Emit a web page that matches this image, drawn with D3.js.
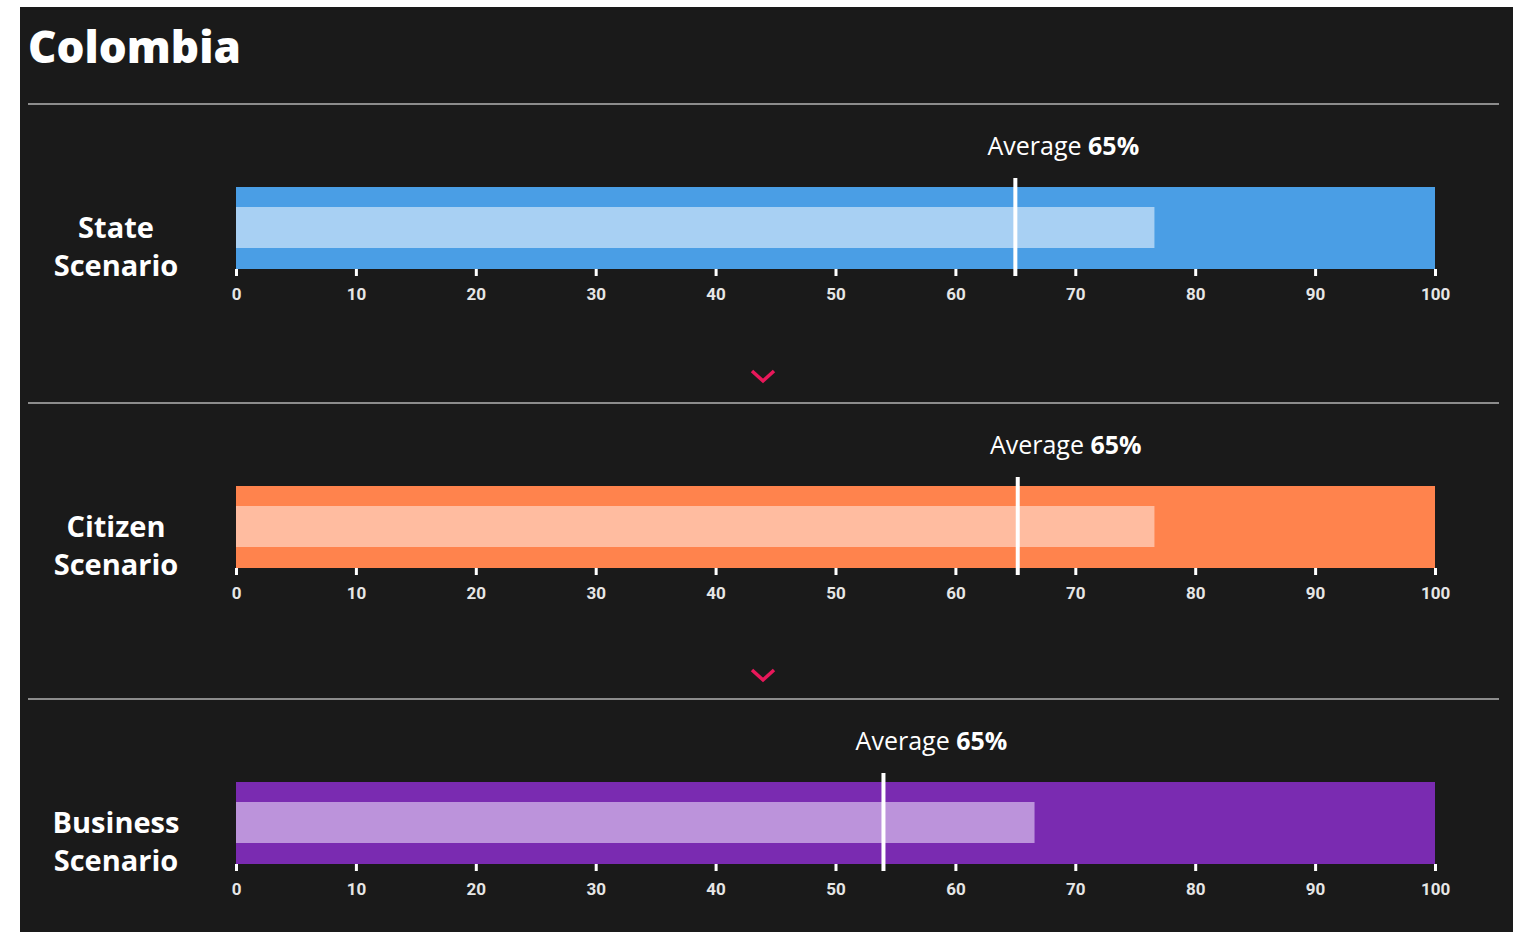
<!DOCTYPE html>
<meta charset="utf-8">
<script src="https://d3js.org/d3.v7.min.js"></script>
<style>
  body { margin: 0; background: #ffffff; }
  .tick text { font-family: "Liberation Sans Narrow", "Roboto", sans-serif; }
</style>
<div id="vis_data"></div>
<script>

    // chart values
    var title = "Colombia";
    var scenarios = ["State Scenario", "Citizen Scenario", "Business Scenario"];
    var values = [76.6, 76.6, 66.6];
    var averages = [65, 65.2, 54];
    var averageLabels = ["65%", "65%", "65%"];
    var tickValues = [0, 10, 20, 30, 40, 50, 60, 70, 80, 90, 100];
    var outerColors = ["#4a9ee5", "#ff834d", "#7a2bb1"];
    var innerColors = ["#a8d0f3", "#ffbca0", "#bc93db"];

    var W = 1524, H = 932;

    var svg = d3.select("#vis_data")
        .append("svg")
        .attr("width", W)
        .attr("height", H);

    // dark panel
    svg.append("rect")
        .attr("x", 20).attr("y", 7)
        .attr("width", 1493).attr("height", H - 7)
        .attr("fill", "#1a1a1a");

    svg.append("text")
        .attr("x", 28).attr("y", 63)
        .attr("fill", "#ffffff")
        .style("font-family", "'Open Sans', sans-serif")
        .style("font-weight", 800)
        .style("font-size", "44px")
        .text(title);

    var x = d3.scaleLinear().domain([0, 100]).range([236, 1435]);

    var panelTop = [104, 403, 699];
    var barTop = 83, barH = 82, innerOff = 20, innerH = 41;

    scenarios.forEach(function(name, i) {
        var g = svg.append("g").attr("transform", "translate(0," + panelTop[i] + ")");

        // separator
        g.append("line")
            .attr("x1", 28).attr("x2", 1499)
            .attr("y1", 0).attr("y2", 0)
            .attr("stroke", "#8c8c8c").attr("stroke-width", 2);

        // row label, two lines
        var words = name.split(" ");
        var lbl = g.append("text")
            .attr("text-anchor", "middle")
            .attr("fill", "#ffffff")
            .style("font-family", "'Open Sans', sans-serif")
            .style("font-weight", 700)
            .style("font-size", "29px");
        words.forEach(function(w, j) {
            lbl.append("tspan")
                .attr("x", 116)
                .attr("y", 134 + j * 38)
                .text(w);
        });

        // range bar
        g.append("rect")
            .attr("x", x(0)).attr("y", barTop)
            .attr("width", x(100) - x(0)).attr("height", barH)
            .attr("fill", outerColors[i]);

        // value bar
        g.append("rect")
            .attr("x", x(0)).attr("y", barTop + innerOff)
            .attr("width", x(values[i]) - x(0)).attr("height", innerH)
            .attr("fill", innerColors[i]);

        // average marker
        g.append("line")
            .attr("x1", x(averages[i])).attr("x2", x(averages[i]))
            .attr("y1", barTop - 9).attr("y2", barTop + barH + 7)
            .attr("stroke", "#ffffff").attr("stroke-width", 4);

        var avg = g.append("text")
            .attr("x", x(averages[i]) + 48)
            .attr("y", 51)
            .attr("text-anchor", "middle")
            .attr("fill", "#ffffff")
            .style("font-family", "'Open Sans', sans-serif")
            .style("font-size", "25px");
        avg.append("tspan").text("Average ");
        avg.append("tspan").style("font-weight", 700).text(averageLabels[i]);

        // axis
        var ax = g.append("g")
            .attr("transform", "translate(0," + (barTop + barH) + ")")
            .call(d3.axisBottom(x).tickValues(tickValues).tickSize(7).tickPadding(12));
        ax.select(".domain").remove();
        ax.selectAll(".tick line").attr("stroke", "#ffffff").attr("stroke-width", 3);
        ax.selectAll(".tick text").attr("fill", "#e6e6e6")
            .style("font-size", "17px").style("font-weight", 700);

        // chevron
        if (i < scenarios.length - 1) {
            var cy = 272;
            g.append("path")
                .attr("d", d3.line()([[752, cy - 5], [763, cy + 5], [774, cy - 5]]))
                .attr("fill", "none")
                .attr("stroke", "#e8185a")
                .attr("stroke-width", 3.5);
        }
    });

</script>
